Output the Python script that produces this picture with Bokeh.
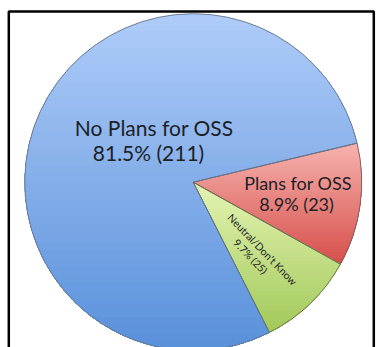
import math
import numpy as np
from bokeh.plotting import figure
from bokeh.models import Range1d
from bokeh.core.properties import value
from bokeh.embed import file_html
from bokeh.resources import INLINE

# ---- data (clockwise from the start angle) ----
categories = ["Plans for OSS", "Neutral/Don't Know", "No Plans for OSS"]
counts = [23, 25, 211]
percent_labels = ["8.9%", "9.7%", "81.5%"]
# slice sizes as drawn in the picture (percent of the full circle)
drawn_share = [11.8, 9.45, 78.75]
start_angle_deg = 13.4

top_colors = ["#f6b1ad", "#e3f3b2", "#aecbf8"]
bottom_colors = ["#d6504b", "#a2c95a", "#5a91db"]
edge_colors = ["#7a5a5e", "#5f7045", "#66758c"]

W, H = 376, 347
p = figure(width=W, height=H, output_backend="svg", toolbar_location=None,
           x_range=Range1d(0, W), y_range=Range1d(0, H), min_border=0,
           background_fill_color="white", border_fill_color="white")
p.axis.visible = False
p.grid.visible = False
p.outline_line_color = None

cx, cy, R = 192.7, H - 181.7, 168.5


def hex2rgb(h):
    h = h.lstrip("#")
    return [int(h[i:i + 2], 16) for i in (0, 2, 4)]


def mix(c1, c2, t):
    a, b = hex2rgb(c1), hex2rgb(c2)
    return "#%02x%02x%02x" % tuple(int(round(a[i] + (b[i] - a[i]) * t)) for i in range(3))


def clip_below(xs, ys, yc):
    ox, oy = [], []
    n = len(xs)
    for i in range(n):
        x1, y1 = xs[i], ys[i]
        x2, y2 = xs[(i + 1) % n], ys[(i + 1) % n]
        in1, in2 = y1 <= yc, y2 <= yc
        if in1:
            ox.append(x1); oy.append(y1)
        if in1 != in2:
            t = (yc - y1) / (y2 - y1)
            ox.append(x1 + t * (x2 - x1)); oy.append(yc)
    return ox, oy


a0 = start_angle_deg
starts, ends = [], []
for i, share in enumerate(drawn_share):
    a1 = a0 - share * 3.6
    starts.append(math.radians(a1))
    ends.append(math.radians(a0))
    n = max(8, int(abs(a0 - a1) * 2))
    angs = np.radians(np.linspace(a0, a1, n))
    px = [cx] + list(cx + R * np.cos(angs))
    py = [cy] + list(cy + R * np.sin(angs))
    ytop, ybot = max(py), min(py)
    N = 40
    bxs, bys, cols = [], [], []
    for k in range(N):
        yc = ytop - k * (ytop - ybot) / N
        qx, qy = clip_below(px, py, yc)
        if len(qx) >= 3:
            bxs.append(qx); bys.append(qy)
            cols.append(mix(top_colors[i], bottom_colors[i], k / (N - 1)))
    p.patches(xs=bxs, ys=bys, fill_color=cols, line_color=None)
    a0 = a1

# slice outlines
p.wedge(x=cx, y=cy, radius=R, start_angle=starts, end_angle=ends,
        fill_color=None, line_color=edge_colors, line_width=1, line_alpha=0.9)

font = value("Lato")
ink = "#1c1f26"
# No Plans for OSS
p.text(x=[153.7], y=[H - 127], text=[categories[2]], text_font=font,
       text_font_size="21px", text_align="center", text_baseline="middle", text_color=ink)
p.text(x=[148], y=[H - 152], text=[f"{percent_labels[2]} ({counts[2]})"], text_font=font,
       text_font_size="21px", text_align="center", text_baseline="middle", text_color=ink)
# Plans for OSS
p.text(x=[297.5], y=[H - 182], text=[categories[0]], text_font=font,
       text_font_size="18px", text_align="center", text_baseline="middle", text_color=ink)
p.text(x=[296], y=[H - 203], text=[f"{percent_labels[0]} ({counts[0]})"], text_font=font,
       text_font_size="18px", text_align="center", text_baseline="middle", text_color=ink)
# Neutral / Don't Know (rotated)
rot = math.radians(-46)
p.text(x=[262], y=[H - 249], text=[categories[1]], text_font=font, angle=rot,
       text_font_size="10.5px", text_align="center", text_baseline="middle", text_color=ink)
p.text(x=[250], y=[H - 256], text=[f"{percent_labels[1]} ({counts[1]})"], text_font=font, angle=rot,
       text_font_size="10.5px", text_align="center", text_baseline="middle", text_color=ink)

# black frame
p.quad(left=[8.3], right=[373.3], top=[H - 11], bottom=[-10], fill_color=None,
       line_color="black", line_width=2.5)

open("out.html", "w").write(file_html(p, INLINE))
